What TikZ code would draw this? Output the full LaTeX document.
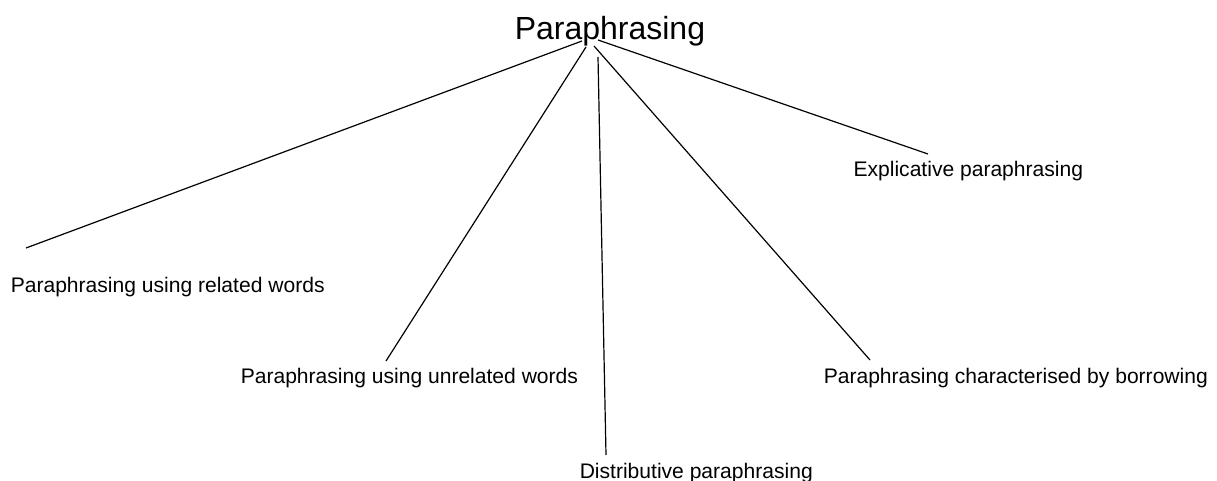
\documentclass[tikz,border=0pt]{standalone}
\usepackage{fontspec}
\setmainfont{Liberation Sans}
\usepackage{tikz}
\usetikzlibrary{positioning}

\begin{document}
\begin{tikzpicture}[
        x=0.75pt, y=-0.75pt,
        leaf/.style={inner sep=0pt, anchor=base west, font=\fontsize{15.8}{19}\selectfont},
        root/.style={inner sep=0pt, anchor=base west, font=\fontsize{24}{28}\selectfont},
        branch/.style={line width=0.9pt, black}
      ]
        \useasboundingbox (0,0) rectangle (1217,481);

        % Root label
        \node[root] (root) at (514.5,40) {Paraphrasing};

        % Leaf labels
        \node[leaf] (related) at (10.5,292) {Paraphrasing using related words};
        \node[leaf] (unrelated) at (240.5,383) {Paraphrasing using unrelated words};
        \node[leaf] (distr) at (579.5,478) {Distributive paraphrasing};
        \node[leaf] (borrow) at (823.5,383) {Paraphrasing characterised by borrowing};
        \node[leaf] (explic) at (853.3,177) {Explicative paraphrasing};

        % Branch ends
        \coordinate (relTop) at (582,41);
        \coordinate (relEnd) at (26,248);
        \coordinate (unrTop) at (586,47);
        \coordinate (unrEnd) at (386,361);
        \coordinate (disTop) at (598,57);
        \coordinate (disEnd) at (606,455);
        \coordinate (borTop) at (594,46);
        \coordinate (borEnd) at (870,360);
        \coordinate (expTop) at (598,40);
        \coordinate (expEnd) at (928,154);

        \draw[branch] (relTop) -- (relEnd);
        \draw[branch] (unrTop) -- (unrEnd);
        \draw[branch] (disTop) -- (disEnd);
        \draw[branch] (borTop) -- (borEnd);
        \draw[branch] (expTop) -- (expEnd);
      \end{tikzpicture}
\end{document}
